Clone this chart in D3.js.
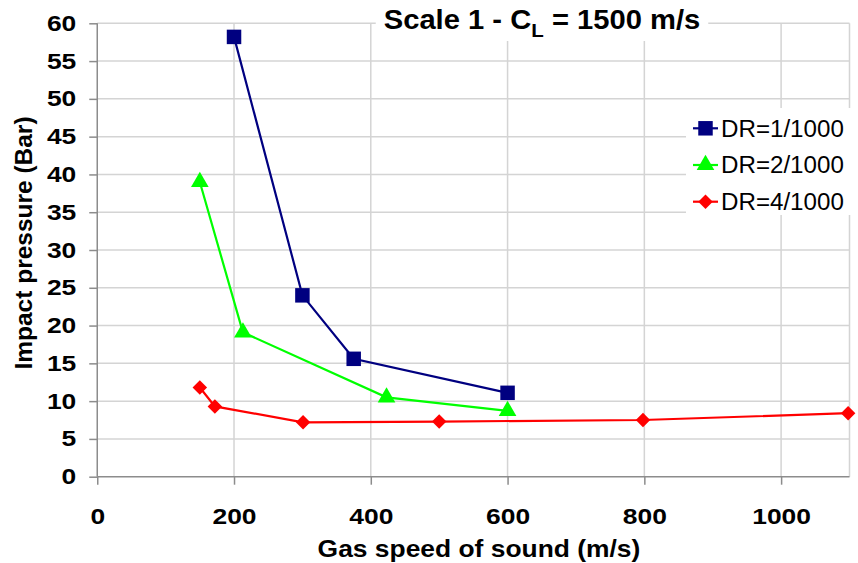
<!DOCTYPE html>
<html>
<head>
<meta charset="utf-8">
<script src="https://cdn.jsdelivr.net/npm/d3@7"></script>
<style>
  html, body { margin: 0; padding: 0; background: #fff; }
  svg { display: block; font-family: "Liberation Sans", Arial, sans-serif; }
</style>
</head>
<body>
<svg id="chart" width="858" height="563"></svg>
<script>
// Impact pressure vs gas speed of sound, for three density ratios
const seriesNames = ["DR=1/1000", "DR=2/1000", "DR=4/1000"];
const seriesColors = ["#000080", "#00ff00", "#ff0000"];
const seriesShapes = ["square", "triangle", "diamond"];

const dr1Speed = [200, 300, 375, 600];
const dr1Pressure = [58.2, 24.0, 15.6, 11.1];

const dr2Speed = [150, 213, 423, 600];
const dr2Pressure = [39.0, 19.1, 10.5, 8.7];

const dr4Speed = [150, 172, 301, 500, 798, 1098];
const dr4Pressure = [11.8, 9.3, 7.2, 7.3, 7.5, 8.4];

const xTicks = [0, 200, 400, 600, 800, 1000];
const yTicks = [0, 5, 10, 15, 20, 25, 30, 35, 40, 45, 50, 55, 60];

const titleMain = "Scale 1 - C";
const titleSub = "L";
const titleRest = " = 1500 m/s";
const xTitle = "Gas speed of sound (m/s)";
const yTitle = "Impact pressure (Bar)";

const series = [
  { speed: dr1Speed, pressure: dr1Pressure },
  { speed: dr2Speed, pressure: dr2Pressure },
  { speed: dr4Speed, pressure: dr4Pressure }
].map((s, i) => ({
  name: seriesNames[i], color: seriesColors[i], shape: seriesShapes[i],
  points: s.speed.map((v, j) => ({ x: v, y: s.pressure[j] }))
}));

// widen text glyphs horizontally by factor k (the chart's lettering is broad)
function widen(sel, k) {
  sel.each(function () {
    const w = this.getComputedTextLength();
    d3.select(this).attr("textLength", w * k).attr("lengthAdjust", "spacingAndGlyphs");
  });
}

const svg = d3.select("#chart");
const plot = { left: 97.25, right: 849.5, top: 23.3, bottom: 476.7 };

const x = d3.scaleLinear().domain([0, 1100]).range([plot.left, plot.right]);
const y = d3.scaleLinear().domain([0, 60]).range([plot.bottom, plot.top]);

const gridColor = "#d4d4d4";
const axisColor = "#8c8c8c";

// gridlines
const grid = svg.append("g");
grid.selectAll("line.h").data(yTicks.filter(d => d > 0)).join("line")
  .attr("x1", plot.left).attr("x2", plot.right)
  .attr("y1", d => y(d)).attr("y2", d => y(d))
  .attr("stroke", gridColor).attr("stroke-width", 1.5);
grid.selectAll("line.v").data(xTicks.filter(d => d > 0)).join("line")
  .attr("x1", d => x(d)).attr("x2", d => x(d))
  .attr("y1", plot.top).attr("y2", plot.bottom)
  .attr("stroke", gridColor).attr("stroke-width", 1.5);
// right border of plot area
grid.append("line")
  .attr("x1", plot.right).attr("x2", plot.right)
  .attr("y1", plot.top).attr("y2", plot.bottom)
  .attr("stroke", gridColor).attr("stroke-width", 1.5);

// axes
const xAxis = d3.axisBottom(x).tickValues(xTicks).tickSize(8).tickPadding(24).tickFormat(d3.format("d"));
const yAxis = d3.axisLeft(y).tickValues(yTicks).tickSize(8).tickPadding(13).tickFormat(d3.format("d"));

const gx = svg.append("g").attr("transform", `translate(0,${plot.bottom})`).call(xAxis);
const gy = svg.append("g").attr("transform", `translate(${plot.left},0)`).call(yAxis);
[gx, gy].forEach(g => {
  g.select(".domain").attr("stroke", axisColor).attr("stroke-width", 1.5);
  g.selectAll(".tick line").attr("stroke", axisColor).attr("stroke-width", 1.5);
  g.selectAll(".tick text")
    .attr("fill", "#000")
    .style("font-family", "'Liberation Sans', Arial, sans-serif")
    .style("font-size", "22px")
    .style("font-weight", "bold")
    .call(widen, 1.2);
});
gx.select(".domain").attr("d", `M${plot.left},0H${plot.right}`);
gy.select(".domain").attr("d", `M0,${plot.bottom}V${plot.top}`);

// axis titles
svg.append("text")
  .attr("x", 479).attr("y", 557)
  .attr("text-anchor", "middle")
  .style("font-size", "24px").style("font-weight", "bold")
  .text(xTitle).call(widen, 1.1);
svg.append("text")
  .attr("transform", "translate(32,243) rotate(-90)")
  .attr("text-anchor", "middle")
  .style("font-size", "24px").style("font-weight", "bold")
  .text(yTitle).call(widen, 1.02);

// series lines and markers; the diamond is a square turned 45 degrees
const line = d3.line().x(d => x(d.x)).y(d => y(d.y));
const symbolOf = {
  square: { path: d3.symbol(d3.symbolSquare, 210)(), rotate: 0 },
  triangle: { path: d3.symbol(d3.symbolTriangle, 135)(), rotate: 0 },
  diamond: { path: d3.symbol(d3.symbolSquare, 105)(), rotate: 45 }
};

series.forEach(s => {
  const sym = symbolOf[s.shape];
  const g = svg.append("g");
  g.append("path").datum(s.points)
    .attr("d", line).attr("fill", "none")
    .attr("stroke", s.color).attr("stroke-width", 2.2);
  g.selectAll("path.m").data(s.points).join("path")
    .attr("class", "m")
    .attr("transform", d => `translate(${x(d.x)},${y(d.y)}) rotate(${sym.rotate})`)
    .attr("d", sym.path)
    .attr("fill", s.color);
});

// title with white backing over the top gridline
const title = svg.append("g");
const titleBg = title.append("rect").attr("fill", "#fff");
const tText = title.append("text")
  .attr("x", 542).attr("y", 29)
  .attr("text-anchor", "middle")
  .style("font-size", "27px").style("font-weight", "bold");
tText.append("tspan").text(titleMain);
tText.append("tspan").attr("dy", 8).style("font-size", "19px").text(titleSub);
tText.append("tspan").attr("dy", -8).text(titleRest);
widen(tText, 1.08);
const tb = tText.node().getBBox();
titleBg.attr("x", tb.x - 8).attr("y", tb.y).attr("width", tb.width + 16).attr("height", tb.height);

// legend
const legend = svg.append("g");
legend.append("rect")
  .attr("x", 686).attr("y", 108).attr("width", 172).attr("height", 107)
  .attr("fill", "#fff");
series.forEach((s, i) => {
  const ly = 128.3 + i * 36.7;
  const sym = symbolOf[s.shape];
  const row = legend.append("g");
  row.append("line")
    .attr("x1", 693).attr("x2", 718).attr("y1", ly).attr("y2", ly)
    .attr("stroke", s.color).attr("stroke-width", 2.2);
  row.append("path")
    .attr("transform", `translate(705.5,${ly}) rotate(${sym.rotate})`)
    .attr("d", sym.path)
    .attr("fill", s.color);
  row.append("text")
    .attr("x", 721).attr("y", ly)
    .attr("dy", "0.36em")
    .style("font-size", "23px")
    .text(s.name)
    .call(widen, 1.05);
});
</script>
</body>
</html>
